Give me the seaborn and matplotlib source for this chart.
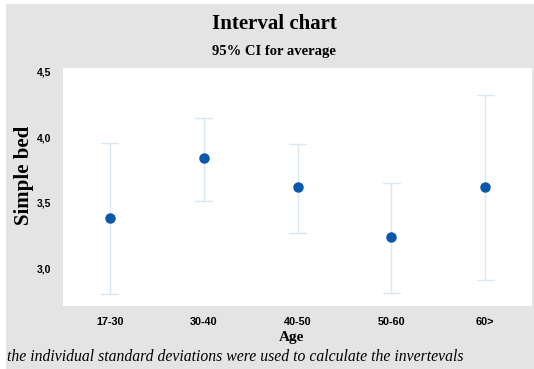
import pandas as pd
import matplotlib.pyplot as plt
import matplotlib.patches as mpatches
import seaborn as sns

# Valores (IC 95% para a media)
age_groups = ["17-30", "30-40", "40-50", "50-60", "60>"]
means = [3.38, 3.84, 3.62, 3.24, 3.62]
lower = [2.80, 3.51, 3.27, 2.81, 2.91]
upper = [3.96, 4.15, 3.95, 3.65, 4.32]
y_ticks = [3.0, 3.5, 4.0, 4.5]
y_tick_labels = ["3,0", "3,5", "4,0", "4,5"]

# formato longo: mediana = media, intervalo 100% = [lower, upper]
rows = []
for g, lo, m, up in zip(age_groups, lower, means, upper):
    for v in (lo, m, up):
        rows.append({"Age": g, "value": v})
data = pd.DataFrame(rows)

sns.set_style("white")
plt.rcParams["text.color"] = "black"
plt.rcParams["xtick.color"] = "black"
plt.rcParams["ytick.color"] = "black"
serif = ["Liberation Serif", "DejaVu Serif"]
sans = ["Liberation Sans", "DejaVu Sans"]

fig = plt.figure(figsize=(5.34, 3.69), dpi=100)
fig.patch.set_facecolor("white")
fig.patches.append(mpatches.Rectangle((6 / 534, 0), 528 / 534, 365 / 369,
                                      transform=fig.transFigure,
                                      facecolor="#e4e4e4", edgecolor="none", zorder=-10))

ax = fig.add_axes([63 / 534, 1 - 306 / 369, 469 / 534, 238 / 369])
ax.set_facecolor("white")

sns.pointplot(data=data, x="Age", y="value", order=age_groups,
              estimator="median", errorbar=("pi", 100),
              linestyle="none", color="#0a58ab", markersize=5.5,
              capsize=0.18, err_kws={"color": "#dbe7f4", "linewidth": 1.0, "zorder": 1},
              ax=ax)
for c in ax.collections:
    c.set_zorder(3)

ax.set_xlim(-0.5, 4.5)
ax.set_ylim(2.71, 4.53)
ax.set_yticks(y_ticks)
ax.set_yticklabels(y_tick_labels, fontfamily=sans, fontweight="bold", fontsize=7.5)
ax.set_xticks(range(len(age_groups)))
ax.set_xticklabels(age_groups, fontfamily=sans, fontweight="bold", fontsize=7.8)
ax.tick_params(axis="x", length=3, color="#d5d5d5", pad=5)
ax.tick_params(axis="y", length=0, pad=8.5)
for s in ax.spines.values():
    s.set_visible(False)

ax.set_xlabel("")
ax.set_ylabel("")
fig.text(24 / 534, 1 - 175 / 369, "Simple bed", rotation=90, ha="center", va="center",
         fontfamily=serif, fontweight="bold", fontsize=15)
fig.text(292 / 534, 1 - 337 / 369, "Age", ha="center", va="center",
         fontfamily=serif, fontweight="bold", fontsize=11)
fig.text(274 / 534, 1 - 24 / 369, "Interval chart", ha="center", va="center",
         fontfamily=serif, fontweight="bold", fontsize=15)
fig.text(274 / 534, 1 - 52 / 369, "95% CI for average", ha="center", va="center",
         fontfamily=serif, fontweight="bold", fontsize=10.5)
fig.text(7 / 534, 1 - 357 / 369,
         "the individual standard deviations were used to calculate the invertevals",
         ha="left", va="center", fontfamily=serif, fontstyle="italic", fontsize=11.3)

plt.savefig("out.png", dpi=100)
